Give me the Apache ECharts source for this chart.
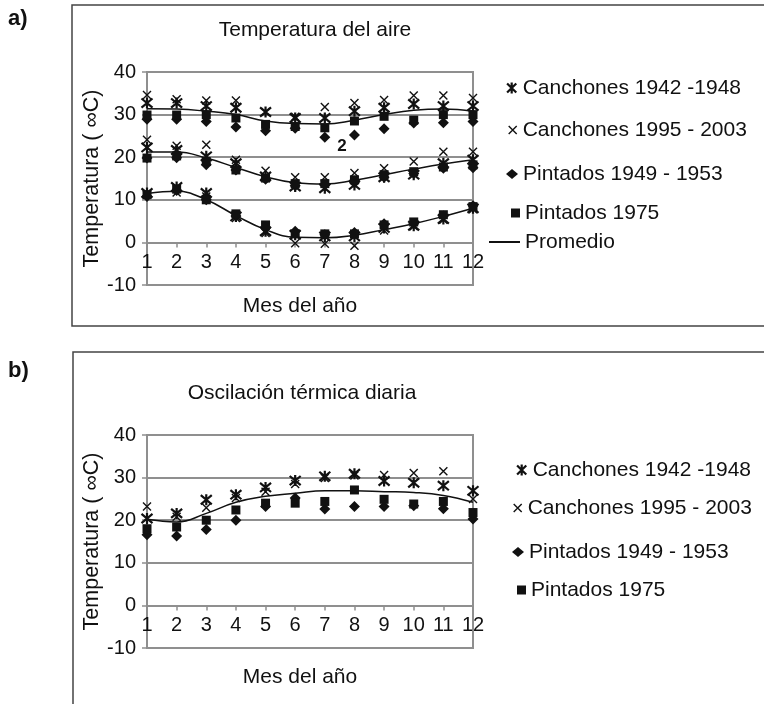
<!DOCTYPE html>
<html>
<head>
<meta charset="utf-8">
<script src="https://cdn.jsdelivr.net/npm/echarts@6/dist/echarts.min.js"></script>
<style>
  html, body { margin: 0; padding: 0; background: #fff; }
  #chart { width: 764px; height: 704px; }
</style>
</head>
<body>
<div id="chart"></div>
<script>
// Months of the year (x axis)
const months = [1, 2, 3, 4, 5, 6, 7, 8, 9, 10, 11, 12];

// a) Air temperature: maximum, mean and minimum per station/period (°C)
const canchones4248Max  = [32.7, 32.7, 32.0, 31.6, 30.6, 29.2, 29.2, 30.8, 31.6, 32.5, 32.0, 32.0];
const canchones4248Mean = [22.3, 21.7, 20.2, 18.6, 15.5, 13.1, 12.7, 13.5, 15.3, 15.9, 18.6, 19.4];
const canchones4248Min  = [11.6, 13.0, 11.6, 6.1, 2.6, 1.8, 1.4, 1.4, 3.4, 3.9, 5.5, 8.0];

const canchones9503Max  = [34.6, 33.6, 33.3, 33.3, 30.6, 29.5, 31.8, 32.7, 33.4, 34.5, 34.5, 33.9];
const canchones9503Mean = [24.1, 22.7, 22.9, 19.4, 16.8, 15.3, 15.3, 16.3, 17.4, 19.0, 21.3, 21.3];
const canchones9503Min  = [11.2, 11.7, 10.8, 5.7, 2.2, -0.2, -0.3, -0.8, 2.8, 3.8, 5.3, 7.8];

const pintados4953Max  = [28.9, 28.9, 28.4, 27.1, 26.2, 26.8, 24.7, 25.2, 26.7, 28.0, 28.1, 28.4];
const pintados4953Mean = [19.8, 19.9, 18.2, 17.0, 14.8, 13.3, 13.5, 14.0, 15.3, 16.2, 17.4, 17.5];
const pintados4953Min  = [10.8, 12.2, 10.0, 6.2, 3.4, 2.6, 1.8, 2.3, 4.4, 4.4, 6.2, 8.6];

const pintados75Max  = [29.9, 29.9, 30.0, 29.2, 27.7, 27.2, 26.9, 28.5, 29.6, 28.7, 30.0, 30.0];
const pintados75Mean = [19.8, 20.3, 19.0, 17.0, 15.1, 13.8, 13.8, 14.7, 15.9, 16.6, 17.7, 18.2];
const pintados75Min  = [11.2, 12.5, 10.0, 6.7, 4.1, 2.0, 2.0, 2.0, 4.1, 4.8, 6.5, 8.4];

const promedioMax  = [31.4, 31.3, 30.8, 30.0, 28.5, 27.9, 27.8, 28.7, 30.0, 31.0, 31.3, 30.8];
const promedioMean = [21.2, 21.2, 19.8, 17.6, 15.4, 14.0, 13.7, 14.6, 15.9, 17.2, 18.4, 19.4];
const promedioMin  = [11.5, 12.0, 10.0, 6.3, 3.0, 1.2, 1.1, 1.7, 3.0, 4.4, 6.1, 8.0];

// b) Daily thermal range (°C)
const canchones4248Osc = [20.4, 21.6, 24.8, 26.0, 27.7, 29.3, 30.3, 30.9, 29.2, 28.8, 28.1, 26.9];
const canchones9503Osc = [23.2, 20.8, 22.9, 25.2, 26.7, 28.5, 29.9, 30.5, 30.6, 31.1, 31.5, 25.0];
const pintados4953Osc  = [16.6, 16.3, 17.8, 20.0, 23.2, 25.2, 22.6, 23.2, 23.2, 23.4, 22.7, 20.3];
const pintados75Osc    = [18.0, 18.4, 20.0, 22.4, 24.0, 24.0, 24.4, 27.1, 24.9, 23.8, 24.4, 21.8];
const promedioOsc      = [20.2, 19.6, 21.6, 24.2, 25.6, 26.3, 26.9, 26.9, 26.7, 26.5, 25.8, 24.2];

// Series names and y-axis ticks
const names = ['Canchones 1942 -1948', 'Canchones 1995 - 2003', 'Pintados 1949 - 1953', 'Pintados 1975', 'Promedio'];
const yMin = -10, yMax = 40, yStep = 10;

const FONT = '"Liberation Sans", Arial, sans-serif';
const INK = '#111';
const GRID_GRAY = '#8f8f8f';

// plot box geometry (pixels)
const PLOT_LEFT = 147, PLOT_W = 326, PLOT_H = 213;
const PLOT_TOPS = [72, 435];
// the month axis crosses the temperature axis at 0 °C
const zeroOffset = -PLOT_H * (0 - yMin) / (yMax - yMin);

// Marker shapes
const STAR = 'path://M0,0 L10,10 M10,0 L0,10 M5,-1 L5,11';
const CROSS = 'path://M0,0 L10,10 M10,0 L0,10';

const pairs = (vals) => vals.map((v, i) => [months[i], v]);
const many = (...lists) => lists.flatMap(pairs);

function markerStyle(symbol) {
  if (symbol === STAR) return { symbolSize: 11, itemStyle: { color: INK, borderColor: INK, borderWidth: 2.2, opacity: 1 } };
  if (symbol === CROSS) return { symbolSize: 8, itemStyle: { color: INK, borderColor: INK, borderWidth: 1.4, opacity: 1 } };
  if (symbol === 'diamond') return { symbolSize: 11, itemStyle: { color: INK, opacity: 1 } };
  return { symbolSize: 9, itemStyle: { color: INK, opacity: 1 } };
}

function scatter(name, symbol, data, gi) {
  return Object.assign({
    type: 'scatter', name, symbol, data,
    xAxisIndex: gi, yAxisIndex: gi, z: 3,
    emphasis: { disabled: true }, animation: false
  }, markerStyle(symbol));
}

function meanLine(name, vals, gi) {
  return {
    type: 'line', name, data: pairs(vals), smooth: 0.45,
    xAxisIndex: gi, yAxisIndex: gi, symbol: 'none', showSymbol: false, z: 2,
    lineStyle: { color: INK, width: 1.5 }, itemStyle: { color: INK },
    emphasis: { disabled: true }, animation: false
  };
}

function xAxis(gi) {
  return {
    type: 'value', gridIndex: gi, min: 1, max: 12, interval: 1,
    position: 'bottom', offset: zeroOffset,
    axisLine: { onZero: false, lineStyle: { color: GRID_GRAY, width: 2 } },
    axisTick: { show: true, length: 5, lineStyle: { color: GRID_GRAY, width: 1.5 } },
    axisLabel: { color: INK, fontSize: 20, fontFamily: FONT, margin: 10, showMinLabel: true, showMaxLabel: true },
    splitLine: { show: false }
  };
}

function yAxis(gi) {
  return {
    type: 'value', gridIndex: gi, min: yMin, max: yMax, interval: yStep,
    name: 'Temperatura ( ∞C)', nameLocation: 'middle', nameGap: 37, nameRotate: 90,
    nameTextStyle: { color: INK, fontSize: 21.5, fontFamily: FONT },
    axisLine: { show: true, onZero: false, lineStyle: { color: GRID_GRAY, width: 2 } },
    axisTick: { show: true, length: 5, lineStyle: { color: GRID_GRAY, width: 1.5 } },
    axisLabel: { color: INK, fontSize: 20, fontFamily: FONT, margin: 11 },
    splitLine: { show: true, lineStyle: { color: GRID_GRAY, width: 2 } }
  };
}

function legendItem(name, icon, textLeft, centerY, w, h) {
  return {
    data: [{ name, icon }],
    left: textLeft - w - 5, top: centerY - 12,
    padding: 0, itemWidth: w, itemHeight: h, selectedMode: false,
    textStyle: { color: INK, fontSize: 21, fontFamily: FONT, lineHeight: 24 },
    itemStyle: { borderWidth: 'inherit', opacity: 1 }
  };
}

const option = {
  backgroundColor: '#fff',
  animation: false,
  grid: PLOT_TOPS.map(top => ({
    left: PLOT_LEFT, top, width: PLOT_W, height: PLOT_H,
    show: true, borderColor: GRID_GRAY, borderWidth: 2, backgroundColor: 'transparent'
  })),
  xAxis: [xAxis(0), xAxis(1)],
  yAxis: [yAxis(0), yAxis(1)],
  legend: [
    legendItem(names[0], STAR, 523, 88, 12, 11),
    legendItem(names[1], CROSS, 523, 130, 10, 8),
    legendItem(names[2], 'diamond', 523, 174, 12, 10),
    legendItem(names[3], 'rect', 525, 213, 9, 9),
    legendItem(names[4], 'rect', 525, 242, 31, 2),
    legendItem(names[0], STAR, 533, 470, 12, 11),
    legendItem(names[1], CROSS, 528, 508, 10, 8),
    legendItem(names[2], 'diamond', 529, 552, 12, 10),
    legendItem(names[3], 'rect', 531, 590, 9, 9)
  ],
  series: [
    meanLine(names[4], promedioMax, 0),
    meanLine(names[4], promedioMean, 0),
    meanLine(names[4], promedioMin, 0),
    scatter(names[0], STAR, many(canchones4248Max, canchones4248Mean, canchones4248Min), 0),
    scatter(names[1], CROSS, many(canchones9503Max, canchones9503Mean, canchones9503Min), 0),
    scatter(names[2], 'diamond', many(pintados4953Max, pintados4953Mean, pintados4953Min), 0),
    scatter(names[3], 'rect', many(pintados75Max, pintados75Mean, pintados75Min), 0),

    meanLine(names[4], promedioOsc, 1),
    scatter(names[0], STAR, pairs(canchones4248Osc), 1),
    scatter(names[1], CROSS, pairs(canchones9503Osc), 1),
    scatter(names[2], 'diamond', pairs(pintados4953Osc), 1),
    scatter(names[3], 'rect', pairs(pintados75Osc), 1)
  ],
  graphic: [
    // panel frames
    { type: 'rect', shape: { x: 72, y: 5, width: 700, height: 321 }, style: { fill: 'none', stroke: '#444', lineWidth: 1.5 }, silent: true },
    { type: 'rect', shape: { x: 73, y: 352, width: 700, height: 400 }, style: { fill: 'none', stroke: '#444', lineWidth: 1.5 }, silent: true },
    // panel tags
    { type: 'text', left: 8, top: 8, style: { text: 'a)', fill: INK, font: 'bold 22px ' + FONT } },
    { type: 'text', left: 8, top: 360, style: { text: 'b)', fill: INK, font: 'bold 22px ' + FONT } },
    // titles
    { type: 'text', x: 315, y: 30, style: { text: 'Temperatura del aire', fill: INK, font: '21px ' + FONT, align: 'center', verticalAlign: 'middle' } },
    { type: 'text', x: 302, y: 393, style: { text: 'Oscilación térmica diaria', fill: INK, font: '21px ' + FONT, align: 'center', verticalAlign: 'middle' } },
    // x axis names
    { type: 'text', x: 300, y: 306, style: { text: 'Mes del año', fill: INK, font: '21px ' + FONT, align: 'center', verticalAlign: 'middle' } },
    { type: 'text', x: 300, y: 677, style: { text: 'Mes del año', fill: INK, font: '21px ' + FONT, align: 'center', verticalAlign: 'middle' } },
    // annotation inside panel a
    { type: 'text', x: 342, y: 146, style: { text: '2', fill: INK, font: 'bold 17px ' + FONT, align: 'center', verticalAlign: 'middle' } }
  ]
};

const chart = echarts.init(document.getElementById('chart'), null, { renderer: 'canvas' });
chart.setOption(option);
</script>
</body>
</html>
